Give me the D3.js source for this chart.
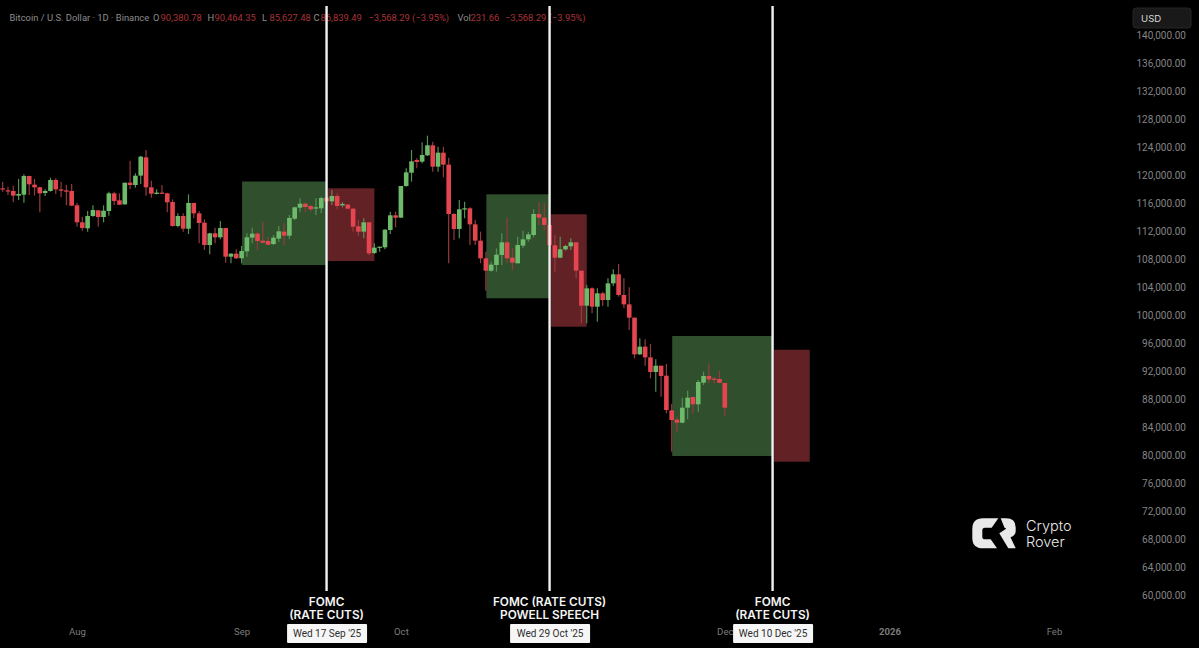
<!DOCTYPE html>
<html>
<head>
<meta charset="utf-8">
<script src="https://cdn.jsdelivr.net/npm/d3@7"></script>
<style>
  html, body { margin: 0; padding: 0; background: #000; }
  svg { display: block; }
  text { font-family: Inter, "Noto Sans", sans-serif; }
</style>
</head>
<body>
<script>
// daily candles, one entry per day from firstDay
const firstDay = "2025-07-18";
const opens = [118100,117810,117720,117050,117190,119860,118620,118240,117430,117720,119290,117950,117810,117720,115670,113240,112380,114140,114950,114000,114860,117380,116380,115810,118910,118570,119910,122520,118240,117290,117480,117380,116140,112720,114140,112330,116000,114520,113190,110000,111670,111100,112430,108330,108760,108100,109100,111050,111620,110620,110570,110140,110910,111910,111330,113760,115330,115910,115570,115290,115240,116760,116240,117000,115670,115760,115190,112670,111910,113240,108860,109670,109670,112140,114240,113910,118430,120330,122140,121910,122810,124240,121190,123190,121480,114430,112290,115140,115240,112950,110620,108100,106330,107140,108570,110380,108190,107380,109910,110810,111430,114430,113910,112860,109950,108190,109380,109810,110380,106330,101330,103810,101190,103100,102140,104520,105810,102860,101520,99620,94380,95480,93950,91860,92760,91330,86380,85050,84620,86760,88290,87240,90330,91290,90910,90860,90290];
const highs = [119050,118330,118480,119430,120100,119910,119430,118330,117950,119620,119520,119050,118570,118710,116050,114050,114860,115670,115000,115670,117620,117620,117380,118910,122050,120240,122710,123570,119190,117950,118570,117480,116520,114520,114520,117240,116050,114860,113670,111760,112480,113430,112430,108810,109380,109860,111670,112480,111910,113330,111190,111430,112710,113100,114290,115480,116670,116050,115710,116670,116910,117620,117860,117380,116140,115860,115240,113570,113810,113330,110240,109760,112240,114760,114760,118430,120950,123570,122380,124670,125620,124760,124050,124050,122480,114520,116430,116190,115380,113570,111910,109050,107620,109520,111670,113910,109520,111190,112050,111910,115100,116100,115950,113570,111430,111190,110000,110950,110380,106330,104290,103950,103810,103330,105240,106520,107290,105240,103950,99620,96670,96520,95860,93670,92760,93000,87290,85480,88190,89190,88330,90710,91910,93100,91190,92050,90290];
const lows = [117620,117140,116100,116430,116050,117140,117050,114670,117000,117620,117290,116810,115670,115570,112620,112050,111910,114050,112620,113240,114190,115710,115710,115760,117950,118190,118710,117050,116760,117240,117290,114670,112620,112520,111910,111570,113810,110240,109290,108670,110240,110810,107480,107380,108000,107380,108330,110240,109290,110240,109950,110000,110480,110000,110810,113570,114760,114670,114760,114290,114520,115710,115710,115100,115380,115100,111910,111290,110950,108570,108710,109050,109380,111570,112520,113860,118330,119050,120950,121670,122710,120480,120480,119670,107380,110710,110950,113810,110000,110000,107380,103480,106190,106190,107140,107380,106430,107380,109520,110480,111100,112860,112140,109290,106190,108100,109190,109290,105240,98810,98810,100240,99050,101290,101190,104140,102620,100950,97860,93810,94290,92760,90950,89050,88330,85950,80480,83330,84520,85100,85950,86190,90000,90240,90240,90240,85570];
const closes = [117950,117720,117050,117290,119860,118670,118240,117380,117720,119290,117950,117760,117620,115620,113240,112430,114140,115000,114000,114900,117380,116290,115760,118900,118570,119900,122620,118240,117330,117480,117330,116100,112720,114140,112330,116000,114520,113140,110000,111670,111100,112430,108330,108760,108100,109140,111100,111620,110570,110330,110050,111050,111950,111330,113860,115380,115900,115430,115100,115380,116710,116240,117000,115570,115860,115190,112620,111900,113240,108810,109620,109760,112190,114240,113900,118430,120380,121950,121860,122860,124240,121190,123190,121480,114430,112290,115100,115240,112950,110620,108100,106330,107190,108620,110380,108100,107480,110000,110810,111520,114430,113900,112860,110000,108190,109380,109860,110380,106330,101330,103810,101190,103100,102140,104520,105810,102860,101520,99620,94380,95480,93950,91860,92760,91290,86430,85000,84620,86760,88190,87240,90430,91290,90810,90810,90330,86760];

// highlighted ranges around each meeting
const boxStart = ["2025-09-01", "2025-09-17", "2025-10-17", "2025-10-29", "2025-11-21", "2025-12-10"];
const boxEnd = ["2025-09-17", "2025-09-26", "2025-10-29", "2025-11-05", "2025-12-10", "2025-12-17"];
const boxTop = [119070, 118100, 117240, 114390, 97000, 95040];
const boxBottom = [107140, 107710, 102390, 98330, 79860, 79040];
const boxKind = ["up", "down", "up", "down", "up", "down"];

const eventDays = ["2025-09-17", "2025-10-29", "2025-12-10"];
const eventDayLabels = ["Wed 17 Sep '25", "Wed 29 Oct '25", "Wed 10 Dec '25"];
const eventTitles = [["FOMC", "(RATE CUTS)"], ["FOMC (RATE CUTS)", "POWELL SPEECH"], ["FOMC", "(RATE CUTS)"]];

const priceTicks = d3.range(60000, 140001, 4000);
const timeTicks = ["2025-08-01", "2025-09-01", "2025-10-01", "2025-12-01", "2026-01-01", "2026-02-01"];
const timeTickLabels = ["Aug", "Sep", "Oct", "Dec", "2026", "Feb"];

const width = 1199, height = 648;
const RED = "#e5454f", GREEN = "#6dbb6b", RED_WICK = "#963a3d", GREEN_WICK = "#528f54";
const AXIS_FONT = "Roboto, Inter, sans-serif";

const parseDay = d3.utcParse("%Y-%m-%d");
const start = parseDay(firstDay);
const candles = opens.map((o, i) => ({
  day: d3.utcDay.offset(start, i), o, h: highs[i], l: lows[i], c: closes[i]
}));

const x = d3.scaleUtc().domain([parseDay("2025-08-01"), parseDay("2026-02-01")]).range([77, 1054]);
const y = d3.scaleLinear().domain([60000, 140000]).range([595, 35]);

const svg = d3.select("body").append("svg").attr("width", width).attr("height", height);
svg.append("rect").attr("width", width).attr("height", height).attr("fill", "#000");

const defs = svg.append("defs");
defs.append("filter").attr("id", "soft")
  .append("feGaussianBlur").attr("stdDeviation", 0.35);

// boxes
svg.append("g").selectAll("rect")
  .data(boxKind)
  .join("rect")
  .attr("x", (d, i) => x(parseDay(boxStart[i])) + (d === "down" ? 1.5 : 0.5))
  .attr("y", (d, i) => y(boxTop[i]))
  .attr("width", (d, i) => x(parseDay(boxEnd[i])) - x(parseDay(boxStart[i])) - (d === "down" ? 1.5 : 0.5))
  .attr("height", (d, i) => y(boxBottom[i]) - y(boxTop[i]))
  .attr("fill", (d) => (d === "up" ? "#2f4f2d" : "#622125"));

// candles
const candle = svg.append("g").attr("filter", "url(#soft)").selectAll("g").data(candles).join("g");
candle.append("line")
  .attr("x1", (d) => x(d.day)).attr("x2", (d) => x(d.day))
  .attr("y1", (d) => y(d.h)).attr("y2", (d) => y(d.l))
  .attr("stroke", (d) => (d.c >= d.o ? GREEN_WICK : RED_WICK))
  .attr("stroke-width", 1.2);
candle.append("rect")
  .attr("x", (d) => x(d.day) - 2.3)
  .attr("width", 4.6)
  .attr("y", (d) => y(Math.max(d.o, d.c)))
  .attr("height", (d) => Math.max(1.2, Math.abs(y(d.o) - y(d.c))))
  .attr("fill", (d) => (d.c >= d.o ? GREEN : RED));

// price axis
const priceAxis = svg.append("g")
  .attr("transform", "translate(1186,0)")
  .call(d3.axisLeft(y).tickValues(priceTicks).tickSize(0).tickPadding(0).tickFormat(d3.format(",.2f")));
priceAxis.select(".domain").remove();
priceAxis.selectAll("text")
  .attr("fill", "#858585").attr("font-size", 10)
  .style("font-family", AXIS_FONT);

// time axis, sits under the date flags
const timeAxis = svg.append("g")
  .attr("transform", "translate(0,628)")
  .call(d3.axisBottom(x)
    .tickValues(timeTicks.map(parseDay))
    .tickSize(0).tickPadding(0)
    .tickFormat((d, i) => timeTickLabels[i]));
timeAxis.select(".domain").remove();
timeAxis.selectAll("text")
  .attr("fill", "#7c7c7c").attr("font-size", 9.6)
  .style("font-family", AXIS_FONT)
  .attr("font-weight", (d, i) => (timeTickLabels[i] === "2026" ? 700 : 400));

// header legend
const legendGrey = "#8c8c8c", legendRed = "#a83338";
const legendTexts = ["Bitcoin / U.S. Dollar · 1D · Binance", "O", "90,380.78", "H", "90,464.35", "L", "85,627.48", "C", "86,839.49", "−3,568.29 (−3.95%)", "Vol", "231.66", "−3,568.29 (−3.95%)"];
const legendX = [9.5, 153, 160.5, 207.5, 214.5, 262, 269.5, 313.5, 320.5, 368.5, 457.5, 470.5, 505];
const legendIsRed = [0, 0, 1, 0, 1, 0, 1, 0, 1, 1, 0, 1, 1];
svg.append("g").selectAll("text").data(legendTexts).join("text")
  .attr("x", (d, i) => legendX[i]).attr("y", 20.5)
  .attr("font-size", 9.4)
  .style("font-family", AXIS_FONT)
  .attr("fill", (d, i) => (legendIsRed[i] ? legendRed : legendGrey))
  .text((d) => d);

// event lines, titles and date flags
const event = svg.append("g").selectAll("g").data(eventDays).join("g")
  .attr("transform", (d) => `translate(${x(parseDay(d))},0)`);
event.append("line")
  .attr("y1", 6).attr("y2", 591)
  .attr("stroke", "#f2f2f2").attr("stroke-width", 2.4);
event.each(function (d, i) {
  const g = d3.select(this);
  eventTitles[i].forEach((t, j) => {
    g.append("text").attr("y", 606 + j * 12.8).attr("text-anchor", "middle")
      .attr("font-size", 11.8).attr("font-weight", 600).attr("fill", "#f4f4f4").text(t);
  });
  g.append("rect").attr("x", -39.5).attr("y", 624).attr("width", 80).attr("height", 19)
    .attr("rx", 1).attr("fill", "#f6f6f6");
  g.append("text").attr("x", 0.5).attr("y", 636.5).attr("text-anchor", "middle")
    .attr("font-size", 10).attr("fill", "#2e2e2e")
    .style("font-family", AXIS_FONT).text(eventDayLabels[i]);
});

// currency button
svg.append("rect").attr("x", 1133).attr("y", 8).attr("width", 58).attr("height", 20).attr("rx", 3)
  .attr("fill", "#191919").attr("stroke", "#262626");
svg.append("text").attr("x", 1141).attr("y", 21.5).attr("font-size", 9.6).attr("fill", "#d8d8d8").text("USD");

// watermark
const logo = svg.append("g").attr("fill", "#e9e9e9");
logo.append("path").attr("d", "M998.3 518.3 H983 Q972.3 518.3 972.3 529 V538 Q972.3 548.3 983 548.3 H997 L990.7 539.3 H985 Q982.3 539.3 982.3 536.7 V530.5 Q982.3 527.7 985 527.7 H991.7 Z");
logo.append("path").attr("d", "M1000.7 518.3 H1006 Q1015.7 518.3 1015.7 527.5 V531 Q1015.7 535.5 1010.5 537.3 L1015.7 548.3 H1008.3 L999.3 533.3 L1005 529.5 Q1007 528 1004.5 527.7 Z");
logo.append("text").attr("x", 1026).attr("y", 531).attr("font-size", 14.5).attr("font-weight", 300).text("Crypto");
logo.append("text").attr("x", 1026).attr("y", 546.5).attr("font-size", 14.5).attr("font-weight", 300).text("Rover");
</script>
</body>
</html>
